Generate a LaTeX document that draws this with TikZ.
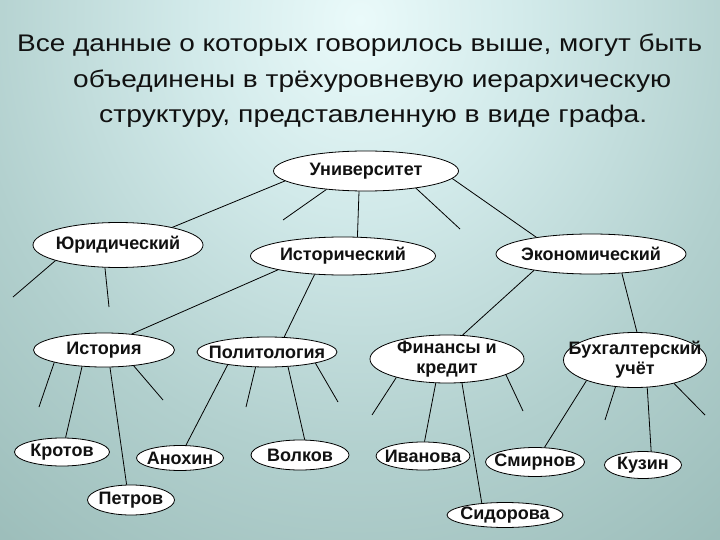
\documentclass[tikz,border=0pt]{standalone}
\usepackage{graphicx}
\usepackage{fontspec}
\setmainfont{Liberation Sans}
\usetikzlibrary{shapes.geometric}
\definecolor{bg0}{HTML}{EAFAFA}
\definecolor{bg1}{HTML}{D2EAEA}
\definecolor{bg2}{HTML}{B2D0CE}
\definecolor{bg3}{HTML}{8EB1AD}
\definecolor{bg4}{HTML}{7A9D99}
\definecolor{bg5}{HTML}{6A8E8A}
\definecolor{ink}{HTML}{111111}
\pgfdeclareradialshading{bgshade}{\pgfpoint{0bp}{0bp}}{color(0bp)=(bg0); color(6bp)=(bg1); color(14bp)=(bg2); color(26bp)=(bg3); color(34bp)=(bg4); color(40bp)=(bg5); color(50bp)=(bg5)}
\begin{document}
\begin{tikzpicture}[x=1pt,y=-1pt,
  el/.style={ellipse, draw=black, line width=0.8pt, fill=white, inner sep=0pt},
  lbl/.style={font=\bfseries\fontsize{18}{20}\selectfont, text=ink, inner sep=0pt, align=center},
  ttl/.style={anchor=base west, inner sep=0pt, text=ink, font=\fontsize{24}{28}\selectfont},
  edge/.style={draw=black, line width=0.8pt}]
\useasboundingbox (0,0) rectangle (720,540);
\begin{scope}
\clip (0,0) rectangle (720,540);
\fill[bg5] (0,0) rectangle (720,540);
\shade[shading=bgshade] (360,20) ellipse [x radius=700, y radius=775];
\end{scope}

% title
\node[ttl] (t1) at (17,52) {\resizebox{685pt}{\height}{Все данные о которых говорилось выше, могут быть}};
\node[ttl] (t2) at (73,88) {\resizebox{598pt}{\height}{объединены в трёхуровневую иерархическую}};
\node[ttl] (t3) at (99,123) {\resizebox{548pt}{\height}{структуру, представленную в виде графа.}};

% nodes
\node[el, minimum width=185pt, minimum height=40pt, label={[lbl]center:Университет}] (uni) at (366,171) {};
\node[el, minimum width=170pt, minimum height=45pt, label={[lbl]center:Юридический}] (jur) at (118,245) {};
\node[el, minimum width=185pt, minimum height=38pt, label={[lbl]center:Исторический}] (hist) at (343,256) {};
\node[el, minimum width=190pt, minimum height=40pt, label={[lbl]center:Экономический}] (econ) at (591,254) {};
\node[el, minimum width=141pt, minimum height=34pt, label={[lbl]center:История}] (istoria) at (104,350) {};
\node[el, minimum width=140pt, minimum height=30pt, label={[lbl]center:Политология}] (polit) at (267,352) {};
\node[el, minimum width=154pt, minimum height=48pt, label={[lbl]center:{Финансы и\\кредит}}] (fin) at (447,359) {};
\node[el, minimum width=143pt, minimum height=55pt, label={[lbl]center:{Бухгалтерский\\учёт}}] (buh) at (635,360) {};
\node[el, minimum width=95pt, minimum height=28pt, label={[lbl]center:Кротов}] (krotov) at (62,452) {};
\node[el, minimum width=87pt, minimum height=25pt, label={[lbl]center:Анохин}] (anohin) at (180,458) {};
\node[el, minimum width=98pt, minimum height=30pt, label={[lbl]center:Волков}] (volkov) at (300,455) {};
\node[el, minimum width=87pt, minimum height=30pt, label={[lbl]center:Петров}] (petrov) at (131,500) {};
\node[el, minimum width=94pt, minimum height=28pt, label={[lbl]center:Иванова}] (ivanova) at (423,456) {};
\node[el, minimum width=99pt, minimum height=29pt, label={[lbl]center:Смирнов}] (smirnov) at (535,462) {};
\node[el, minimum width=77pt, minimum height=27pt, label={[lbl]center:Кузин}] (kuzin) at (643,465) {};
\node[el, minimum width=116pt, minimum height=25pt, label={[lbl]center:Сидорова}] (sidorova) at (505,515) {};

% free ends
\coordinate (d1) at (283,220);
\coordinate (d2) at (460,229);
\coordinate (d3) at (13,297);
\coordinate (d4) at (109,307);
\coordinate (d5) at (39,407);
\coordinate (d6) at (163,400);
\coordinate (d7) at (246,407);
\coordinate (d8) at (338,402);
\coordinate (d9) at (372,415);
\coordinate (d10) at (523,411);
\coordinate (d11) at (605,420);
\coordinate (d12) at (705,415);

% connectors
\draw[edge] (uni.187.6) -- (jur.18.8);
\draw[edge] (uni.205.5) -- (d1);
\draw[edge] (uni.251.6) -- (hist.53.1);
\draw[edge] (uni.341.6) -- (d2);
\draw[edge] (uni.355.5) -- (econ.163.1);
\draw[edge] (jur.194.4) -- (d3);
\draw[edge] (jur.240.8) -- (d4);
\draw[edge] (hist.192.8) -- (istoria.30);
\draw[edge] (hist.213.7) -- (polit.41.2);
\draw[edge] (econ.196.6) -- (fin.57.4);
\draw[edge] (econ.328.5) -- (buh.86);
\draw[edge] (istoria.194) -- (d5);
\draw[edge] (istoria.217.7) -- (krotov.76.8);
\draw[edge] (istoria.289.4) -- (petrov.106.4);
\draw[edge] (istoria.332.7) -- (d6);
\draw[edge] (polit.198.8) -- (anohin.65);
\draw[edge] (polit.233.7) -- (d7);
\draw[edge] (polit.325.7) -- (volkov.73.6);
\draw[edge] (polit.347.8) -- (d8);
\draw[edge] (fin.200.9) -- (d9);
\draw[edge] (fin.245.2) -- (ivanova.84);
\draw[edge] (fin.302.6) -- (sidorova.153.4);
\draw[edge] (fin.345) -- (d10);
\draw[edge] (buh.203) -- (smirnov.57.7);
\draw[edge] (buh.234.5) -- (d11);
\draw[edge] (buh.294.9) -- (kuzin.59.5);
\draw[edge] (buh.329.8) -- (d12);
\end{tikzpicture}
\end{document}
